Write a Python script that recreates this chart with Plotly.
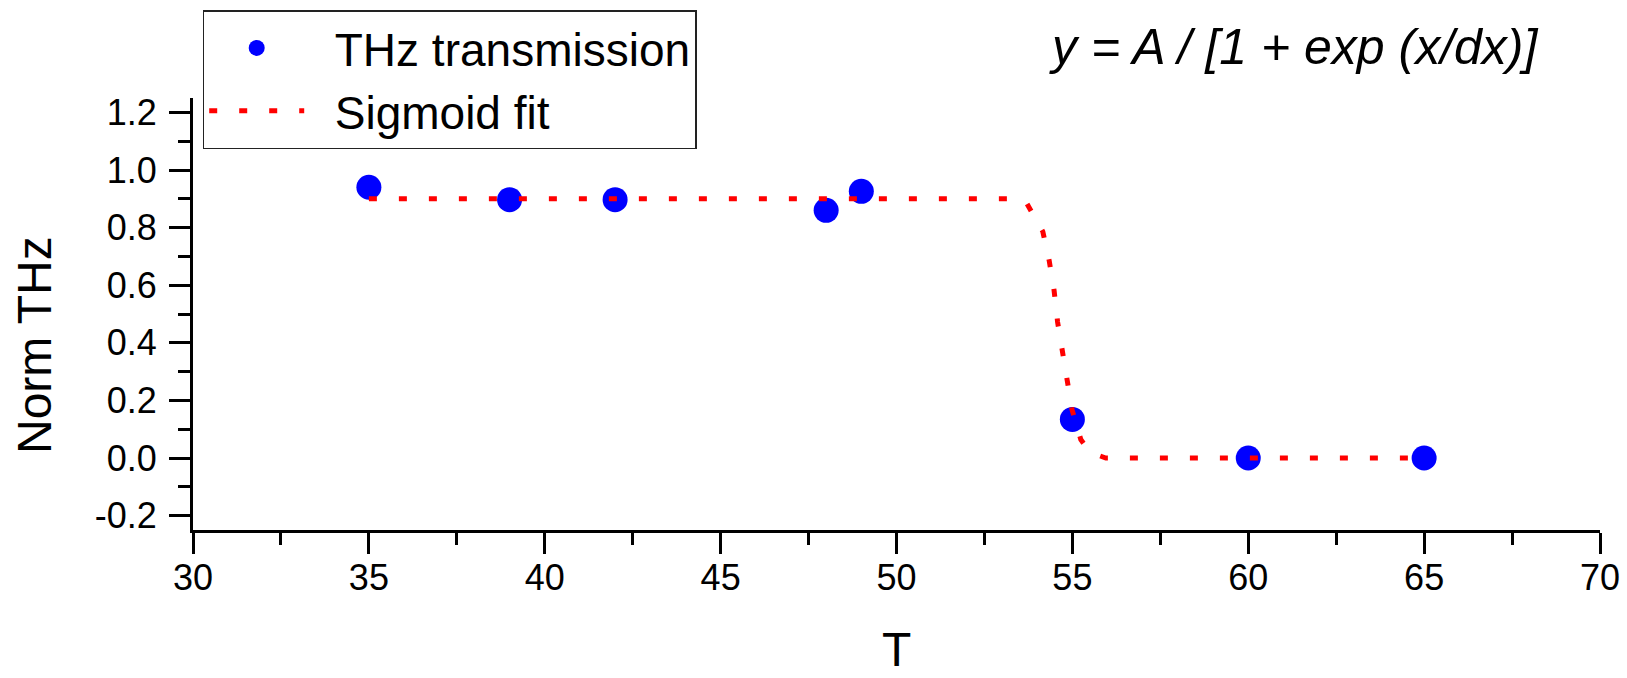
import plotly.graph_objects as go

# ---- data ----
T_points = [35, 39, 42, 48, 49, 55, 60, 65]
thz_points = [0.94, 0.897, 0.897, 0.86, 0.926, 0.134, 0.0, 0.0]

fit_T = [35, 53.5, 53.7, 54.16, 54.34, 54.48, 54.58, 54.71, 54.83, 54.99, 55.24, 55.5, 55.95, 65]
fit_y = [0.9, 0.9, 0.885, 0.786, 0.686, 0.582, 0.472, 0.372, 0.272, 0.168, 0.064, 0.02, 0.0, 0.0]

x_ticks = [30, 35, 40, 45, 50, 55, 60, 65, 70]
x_ticktext = ["30", "35", "40", "45", "50", "55", "60", "65", "70"]
y_ticks = [-0.2, 0.0, 0.2, 0.4, 0.6, 0.8, 1.0, 1.2]
y_ticktext = ["-0.2", "0.0", "0.2", "0.4", "0.6", "0.8", "1.0", "1.2"]

FONT = "Liberation Sans, Arial, sans-serif"
PAD = "&nbsp;&nbsp;"

fig = go.Figure()
fig.add_trace(go.Scatter(
    x=T_points, y=thz_points, mode="markers", name=PAD + "THz transmission",
    marker=dict(color="#0000FF", size=25, line=dict(width=0)),
))
fig.add_trace(go.Scatter(
    x=fit_T, y=fit_y, mode="lines", name=PAD + "Sigmoid fit",
    line=dict(color="#FF0000", width=5, dash="8px,22px"),
))

axis_common = dict(
    showgrid=False, zeroline=False, showline=True, linecolor="black", linewidth=3,
    ticks="outside", ticklen=21, tickwidth=3, tickcolor="black",
    tickfont=dict(family=FONT, size=36, color="black"),
    mirror=False,
)

fig.update_xaxes(
    range=[30, 70], tickvals=x_ticks, ticktext=x_ticktext,
    minor=dict(dtick=2.5, tick0=30, ticklen=12, tickwidth=3, tickcolor="black", ticks="outside"),
    ticklabelstandoff=-7,
    **axis_common,
)
fig.update_yaxes(
    range=[-0.25, 1.25], tickvals=y_ticks, ticktext=y_ticktext,
    minor=dict(dtick=0.1, tick0=0, ticklen=12, tickwidth=3, tickcolor="black", ticks="outside"),
    ticklabelstandoff=5,
    **axis_common,
)

fig.update_layout(
    width=1627, height=678,
    margin=dict(l=193, r=27, t=98, b=148, autoexpand=False),
    paper_bgcolor="white", plot_bgcolor="white",
    font=dict(family=FONT, color="black"),
    showlegend=True,
    legend=dict(
        x=0.0069, y=1.2037, xanchor="left", yanchor="top",
        bgcolor="white", bordercolor="#222222", borderwidth=1.5,
        font=dict(family=FONT, size=46, color="black"),
        itemwidth=95, tracegroupgap=0,
    ),
    annotations=[
        dict(text="<i>y = A / [1 + exp (x/dx)]</i>", xref="paper", yref="paper",
             x=0.607, y=1.118, xanchor="left", yanchor="middle", showarrow=False,
             font=dict(family=FONT, size=50, color="black")),
        dict(text="Norm THz", xref="paper", yref="paper",
             x=(34 - 193) / 1407, y=(530 - 345) / 432, xanchor="center", yanchor="middle",
             textangle=-90, showarrow=False,
             font=dict(family=FONT, size=48, color="black")),
        dict(text="T", xref="paper", yref="paper",
             x=0.5, y=(530 - 678) / 432, xanchor="center", yanchor="bottom",
             showarrow=False, font=dict(family=FONT, size=48, color="black")),
    ],
)

fig.write_html("out.html")
